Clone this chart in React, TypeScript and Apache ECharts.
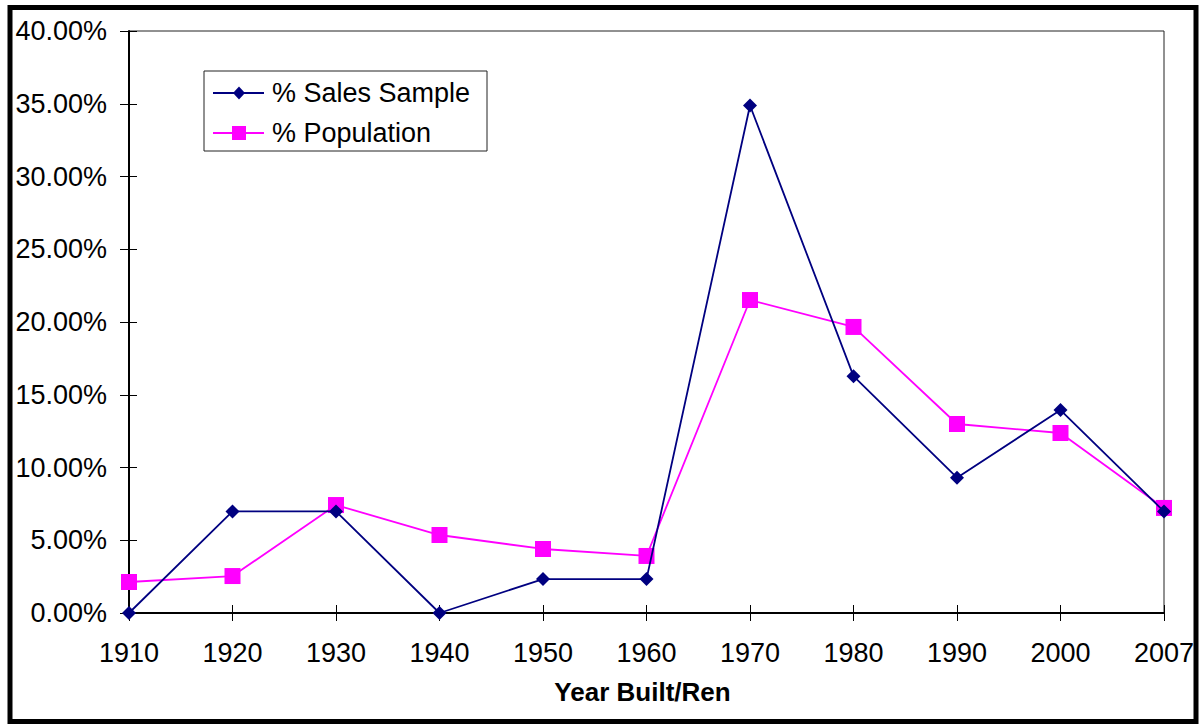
import React, { useEffect, useRef } from "react";
import * as echarts from "echarts";

// Year categories along the x axis
const years = ["1910", "1920", "1930", "1940", "1950", "1960", "1970", "1980", "1990", "2000", "2007"];

// Share of homes by year built / renovated, in percent
const salesSample = [0.0, 6.98, 6.98, 0.0, 2.33, 2.33, 34.88, 16.28, 9.3, 13.95, 6.98];
const population = [2.13, 2.54, 7.42, 5.36, 4.4, 3.92, 21.51, 19.66, 12.99, 12.37, 7.22];

const seriesNames = ["% Sales Sample", "% Population"];
const axisTitle = "Year Built/Ren";

const NAVY = "#000080";
const MAGENTA = "#FF00FF";
const FONT = "'Liberation Sans', Arial, sans-serif";

export default function App() {
  const ref = useRef<HTMLDivElement>(null);

  useEffect(() => {
    if (!ref.current) return;
    const chart = echarts.init(ref.current, undefined, { renderer: "svg" });

    const legendX = 204;
    const legendY = 71;
    const rowY = [93, 133];

    chart.setOption({
      animation: false,
      backgroundColor: "#ffffff",
      textStyle: { fontFamily: FONT },
      grid: {
        left: 129,
        top: 31,
        right: 40,
        bottom: 112,
        show: true,
        borderColor: "#222",
        borderWidth: 1,
        backgroundColor: "transparent",
      },
      xAxis: [
        {
          type: "category",
          data: years,
          boundaryGap: false,
          axisLine: { lineStyle: { color: "#000", width: 2 } },
          axisTick: { show: true, length: 8, lineStyle: { color: "#000", width: 1 } },
          axisLabel: { color: "#000", fontSize: 27, margin: 26, fontFamily: FONT },
          name: axisTitle,
          nameLocation: "middle",
          nameGap: 66,
          nameTextStyle: { color: "#000", fontSize: 26, fontWeight: "bold", fontFamily: FONT, padding: [0, 8, 0, 0] },
          splitLine: { show: false },
        },
        {
          type: "category",
          data: years,
          boundaryGap: false,
          position: "bottom",
          axisLine: { show: false },
          axisTick: { show: true, inside: true, length: 8, lineStyle: { color: "#000", width: 1 } },
          axisLabel: { show: false },
          splitLine: { show: false },
        },
      ],
      yAxis: [
        {
          type: "value",
          min: 0,
          max: 40,
          interval: 5,
          axisLine: { show: true, lineStyle: { color: "#000", width: 2 } },
          axisTick: { show: true, length: 9, lineStyle: { color: "#000", width: 1 } },
          axisLabel: {
            color: "#000",
            fontSize: 27,
            margin: 22,
            fontFamily: FONT,
            formatter: (v: number) => v.toFixed(2) + "%",
          },
          splitLine: { show: false },
        },
        {
          type: "value",
          min: 0,
          max: 40,
          interval: 5,
          position: "left",
          axisLine: { show: false },
          axisTick: { show: true, inside: true, length: 8, lineStyle: { color: "#000", width: 1 } },
          axisLabel: { show: false },
          splitLine: { show: false },
        },
      ],
      series: [
        {
          name: seriesNames[0],
          type: "line",
          data: salesSample,
          xAxisIndex: 0,
          yAxisIndex: 0,
          symbol: "diamond",
          symbolSize: 14,
          lineStyle: { color: NAVY, width: 1.8 },
          itemStyle: { color: NAVY },
          z: 3,
        },
        {
          name: seriesNames[1],
          type: "line",
          data: population,
          xAxisIndex: 0,
          yAxisIndex: 0,
          symbol: "rect",
          symbolSize: 16,
          lineStyle: { color: MAGENTA, width: 1.8 },
          itemStyle: { color: MAGENTA },
          z: 2,
        },
      ],
      graphic: [
        // outer frame
        {
          type: "rect",
          shape: { x: 10, y: 7.5, width: 1186, height: 714 },
          style: { fill: "none", stroke: "#000", lineWidth: 5 },
          silent: true,
        },
        // legend box
        {
          type: "rect",
          shape: { x: legendX, y: legendY, width: 283, height: 80 },
          style: { fill: "#fff", stroke: "#222", lineWidth: 1 },
          z: 10,
        },
        {
          type: "line",
          shape: { x1: 213, y1: rowY[0], x2: 264, y2: rowY[0] },
          style: { stroke: NAVY, lineWidth: 1.8 },
          z: 11,
        },
        {
          type: "polygon",
          shape: {
            points: [
              [239, rowY[0] - 6.5],
              [245, rowY[0]],
              [239, rowY[0] + 6.5],
              [233, rowY[0]],
            ],
          },
          style: { fill: NAVY },
          z: 12,
        },
        {
          type: "text",
          x: 272,
          y: rowY[0],
          style: {
            text: seriesNames[0],
            fill: "#000",
            font: `27px ${FONT}`,
            verticalAlign: "middle",
            textAlign: "left",
          },
          z: 12,
        },
        {
          type: "line",
          shape: { x1: 213, y1: rowY[1], x2: 264, y2: rowY[1] },
          style: { stroke: MAGENTA, lineWidth: 1.8 },
          z: 11,
        },
        {
          type: "rect",
          shape: { x: 232, y: rowY[1] - 7, width: 14, height: 14 },
          style: { fill: MAGENTA },
          z: 12,
        },
        {
          type: "text",
          x: 272,
          y: rowY[1],
          style: {
            text: seriesNames[1],
            fill: "#000",
            font: `27px ${FONT}`,
            verticalAlign: "middle",
            textAlign: "left",
          },
          z: 12,
        },
      ],
    });

    return () => chart.dispose();
  }, []);

  return (
    <div
      ref={ref}
      style={{ position: "fixed", left: 0, top: 0, width: 1204, height: 725, background: "#fff" }}
    />
  );
}
